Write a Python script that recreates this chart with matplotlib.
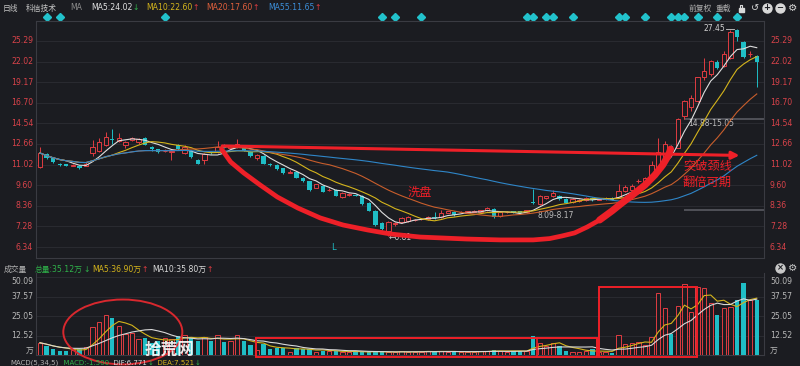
import matplotlib
matplotlib.use('Agg')
import matplotlib.pyplot as plt
from matplotlib.patches import Ellipse, Rectangle
from matplotlib.transforms import blended_transform_factory as blend
import numpy as np
import pandas as pd

plt.rcParams['font.family'] = ['DejaVu Sans', 'Noto Sans CJK SC']

## data (daily K line, prices in yuan, volume in 万)
opens = [10.85, 11.84, 11.5, 11.1, 11.05, 10.95, 10.95, 10.95, 11.9, 12.1,
         12.6, 13.1, 12.9, 12.6, 13.0, 12.8, 13.2, 12.4, 12.2, 12.05,
         12.0, 12.6, 11.9, 12.1, 11.4, 11.4, 12.0, 12.0, 12.6, 12.35,
         12.4, 12.4, 12.0, 11.55, 11.7, 11.1, 11.0, 10.75, 10.45, 10.5,
         10.1, 9.85, 9.45, 9.55, 9.3, 9.3, 8.85, 9.0, 9.0, 8.95,
         8.5, 8.1, 7.45, 7.05, 7.38, 7.5, 7.55, 7.6, 7.65, 7.65,
         7.78, 7.75, 7.98, 8.0, 8.0, 7.98, 8.02, 8.0, 8.13, 8.2,
         7.8, 8.0, 8.05, 8.05, 8.0, 8.55, 8.45, 8.8, 8.9, 8.95,
         8.76, 8.55, 8.65, 8.68, 8.8, 8.72, 8.78, 8.8, 8.87, 9.24,
         9.3, 9.85, 9.87, 10.07, 10.85, 11.45, 12.5, 12.35, 15.3, 16.2,
         16.9, 19.9, 20.2, 21.9, 21.4, 22.6, 27.2, 25.1, 23.1, 22.9]
highs = [12.4, 11.9, 11.55, 11.15, 11.1, 11.05, 11.0, 11.2, 13.0, 13.2,
         13.7, 14.0, 13.6, 12.9, 13.3, 13.2, 13.3, 12.45, 12.25, 12.2,
         12.2, 12.7, 12.6, 12.15, 11.45, 11.9, 12.05, 12.9, 12.65, 12.6,
         13.1, 12.45, 12.05, 11.8, 11.75, 11.15, 11.05, 10.8, 10.6, 10.55,
         10.15, 9.9, 9.7, 9.6, 9.4, 9.35, 9.2, 9.1, 9.05, 9.0,
         8.55, 8.15, 7.5, 7.55, 7.5, 7.75, 7.8, 7.65, 7.7, 7.8,
         8.0, 8.13, 8.1, 8.05, 8.05, 8.1, 8.15, 8.15, 8.3, 8.25,
         8.05, 8.05, 8.1, 8.1, 8.15, 9.35, 9.0, 8.95, 9.3, 9.0,
         8.8, 8.8, 8.75, 8.85, 8.85, 8.8, 8.85, 8.85, 9.7, 9.6,
         9.65, 10.0, 10.15, 11.3, 13.2, 12.9, 12.6, 15.1, 17.0, 17.6,
         19.9, 22.6, 22.3, 22.3, 23.6, 27.2, 27.45, 25.3, 23.6, 23.0]
lows = [10.75, 11.45, 11.15, 10.95, 10.9, 10.9, 10.7, 10.9, 11.7, 12.0,
        12.5, 12.7, 12.8, 12.3, 12.9, 12.7, 12.55, 12.1, 11.95, 12.0,
        11.4, 12.15, 11.85, 11.55, 11.05, 11.1, 11.85, 11.95, 12.3, 12.3,
        12.35, 12.05, 11.6, 11.4, 11.05, 10.95, 10.65, 10.35, 10.4, 10.05,
        9.8, 9.25, 9.4, 9.15, 9.25, 8.9, 8.8, 8.95, 8.9, 8.4,
        8.05, 7.3, 7.1, 6.81, 7.3, 7.45, 7.5, 7.55, 7.6, 7.6,
        7.65, 7.7, 7.95, 7.8, 7.95, 7.95, 8.0, 7.95, 8.1, 7.7,
        7.75, 7.95, 7.95, 7.9, 7.95, 8.45, 8.4, 8.75, 8.85, 8.7,
        8.5, 8.5, 8.6, 8.65, 8.65, 8.68, 8.72, 8.7, 8.8, 9.2,
        9.25, 9.75, 9.85, 10.0, 10.8, 11.4, 12.3, 12.3, 15.0, 15.8,
        16.8, 19.5, 20.0, 21.0, 21.2, 22.4, 25.2, 22.5, 22.7, 18.6]
closes = [11.92, 11.5, 11.2, 11.0, 10.95, 11.0, 10.75, 11.1, 12.4, 12.8,
          13.3, 13.0, 13.2, 12.8, 13.2, 13.1, 12.6, 12.2, 12.0, 12.1,
          12.1, 12.2, 12.4, 11.6, 11.1, 11.8, 11.9, 12.4, 12.35, 12.5,
          12.7, 12.1, 11.65, 11.75, 11.1, 11.0, 10.7, 10.4, 10.5, 10.1,
          9.85, 9.3, 9.65, 9.2, 9.32, 8.95, 9.1, 9.05, 8.95, 8.45,
          8.1, 7.35, 7.15, 7.5, 7.45, 7.7, 7.75, 7.6, 7.65, 7.75,
          7.7, 7.98, 8.07, 7.85, 8.0, 8.07, 8.1, 8.13, 8.24, 7.75,
          8.0, 8.02, 7.97, 7.95, 8.13, 8.5, 8.95, 8.9, 9.1, 8.76,
          8.53, 8.75, 8.72, 8.8, 8.7, 8.75, 8.8, 8.72, 9.24, 9.5,
          9.55, 9.9, 10.07, 11.0, 12.0, 12.66, 12.35, 15.0, 16.9, 17.2,
          19.8, 20.6, 22.1, 21.1, 23.2, 26.9, 26.0, 22.7, 23.2, 22.0]
volumes = [7.9, 6.0, 3.7, 2.5, 2.5, 3.2, 4.0, 5.3, 18.2, 21.4,
           25.7, 24.0, 18.6, 13.3, 13.9, 10.3, 10.7, 7.5, 9.0, 10.7,
           10.3, 12.2, 12.8, 10.7, 9.0, 11.8, 9.0, 12.8, 8.5, 9.0,
           12.8, 9.0, 6.4, 3.2, 6.9, 3.7, 4.7, 4.7, 2.1, 4.3,
           3.7, 3.7, 2.1, 2.6, 2.6, 2.6, 1.7, 2.1, 2.1, 2.1,
           1.7, 2.8, 1.7, 1.7, 1.7, 2.6, 2.1, 2.1, 2.1, 2.6,
           2.1, 2.6, 2.1, 2.1, 1.7, 2.1, 2.1, 2.6, 2.6, 3.2,
           2.6, 2.1, 2.6, 2.6, 2.6, 12.2, 7.5, 6.0, 7.5, 6.0,
           2.6, 2.1, 2.1, 2.6, 3.7, 2.1, 1.7, 1.5, 12.8, 6.9,
           7.5, 8.1, 6.5, 11.8, 39.6, 30.4, 13.3, 31.5, 45.4, 27.4,
           43.9, 42.8, 33.2, 25.7, 30.4, 31.0, 35.3, 46.0, 35.3, 35.12]
signal_days = [1, 3, 19, 52, 54, 58, 74, 75, 77, 78, 81, 88, 89, 92, 96, 97, 98, 100, 103, 106]
price_ticks = [6.34, 7.28, 8.36, 9.60, 11.02, 12.66, 14.54, 16.70, 19.17, 22.02, 25.29]
volume_ticks = [12.52, 25.05, 37.57, 50.09]
ma_lines = [(5, '#dedede'), (10, '#d4b41c'), (20, '#c85e2c'), (55, '#2f86c8')]

## colours
BG = '#1b1c21'
RED = '#e03c42'
CYAN = '#1fbec6'
MARK = '#ee2028'
GRID = '#2c2d33'
SPINE = '#3a3b42'
GRAY = '#c4c4c4'
W, H = 800, 366

fig = plt.figure(figsize=(8, 3.66), dpi=100, facecolor=BG)
ax = fig.add_axes([36 / W, 1 - 258 / H, 728 / W, 237 / H], facecolor=BG)
vax = fig.add_axes([36 / W, 1 - 355 / H, 728 / W, 82 / H], facecolor=BG)

idx = np.arange(len(closes))
o = np.array(opens)
c = np.array(closes)
hi = np.array(highs)
lo = np.array(lows)
up = c >= o
cols = np.where(up, RED, CYAN)

## price panel
ax.set_yscale('log')
ax.vlines(idx, lo, hi, colors=cols, lw=0.7, zorder=2)
b_lo = np.minimum(o, c)
b_hi = np.maximum(o, c)
ax.bar(idx[up], b_hi[up] - b_lo[up], bottom=b_lo[up], width=0.66,
       facecolor=BG, edgecolor=RED, lw=0.7, zorder=3)
ax.bar(idx[~up], b_hi[~up] - b_lo[~up], bottom=b_lo[~up], width=0.66,
       color=CYAN, lw=0, zorder=3)
cs = pd.Series(closes)
for n, col in ma_lines:
    ax.plot(idx, cs.rolling(n, min_periods=1).mean(), color=col, lw=0.8, zorder=4)

ax.set_xlim(-0.6, 110.1)
ax.set_ylim(5.89, 28.9)
ax.set_yticks(price_ticks)
ax.yaxis.set_minor_locator(matplotlib.ticker.NullLocator())
ax.set_yticklabels([])
ax.set_xticks([])
ax.tick_params(length=0)
ax.grid(axis='y', color=GRID, lw=0.6)
ax.set_axisbelow(True)
for s in ax.spines.values():
    s.set_color(SPINE)
    s.set_linewidth(0.8)
ty = blend(ax.transAxes, ax.transData)
for t in price_ticks:
    ax.text(-3 / 728, t, f'{t:.2f}', transform=ty, ha='right', va='center', fontsize=5.6, color='#d9434a')
    ax.text(1 + 6 / 728, t, f'{t:.2f}', transform=ty, ha='left', va='center', fontsize=5.6, color='#d9434a')

# signal diamonds above the chart
ax.plot(signal_days, [1.017] * len(signal_days), 'D', ms=3.6, color='#22c2cc',
        transform=blend(ax.transData, ax.transAxes), clip_on=False)

# price range markers and labels
for start, p0, p1, lab, lx, ly in [(98, 14.88, 15.05, '14.88-15.05', 98.5, 14.48),
                                   (98, 8.09, 8.17, '8.09-8.17', 75.6, 7.86)]:
    ax.fill_between([start, 110.1], p0, p1, color='#4e4f56', lw=0, zorder=1)
    ax.text(lx, ly, lab, fontsize=5.5, color='#bdbdbd', va='center', ha='left')
ax.text(104.2, 27.45, '27.45', fontsize=5.5, color='#cfcfcf', ha='right', va='center')
ax.plot([104.35, 105.6], [27.45, 27.45], color='#cfcfcf', lw=0.6)
ax.text(53.0, 6.78, '←6.81', fontsize=5.5, color='#cfcfcf', ha='left', va='center')
ax.text(44.6, 6.3, 'L', fontsize=6, color=CYAN, ha='center', va='center')

# hand drawn markup
bowl = [(27.6, 12.24), (29.0, 11.22), (31.0, 10.42), (33.5, 9.61), (36.1, 8.87), (39.2, 8.24),
        (42.6, 7.71), (46.1, 7.35), (49.8, 7.11), (53.3, 6.92), (57.8, 6.78), (64.9, 6.69),
        (70.0, 6.65), (75.0, 6.65), (77.5, 6.71), (79.4, 6.83), (81.3, 6.97), (83.2, 7.25),
        (85.1, 7.60), (87.0, 8.08), (88.5, 8.52), (90.3, 9.05), (92.0, 9.61), (93.5, 10.28),
        (94.7, 10.99), (95.6, 11.76), (95.9, 12.24)]
bx, by = zip(*bowl)
ax.plot(bx, by, color=MARK, lw=3.4, solid_capstyle='round', solid_joinstyle='round', zorder=6)
ax.plot(bx[-9:], by[-9:], color=MARK, lw=5.0, solid_capstyle='round', solid_joinstyle='round', zorder=6)
ax.annotate('', xy=(106.8, 11.72), xytext=(27.3, 12.5),
            arrowprops=dict(arrowstyle='-|>', color=MARK, lw=2.2, mutation_scale=11), zorder=6)
ax.text(57.7, 9.17, '洗盘', fontsize=8.8, color=MARK, ha='center', va='center', zorder=7)
ax.text(101.5, 10.85, '突破颈线', fontsize=8.8, color=MARK, ha='center', va='center', zorder=7)
ax.text(101.5, 9.81, '翻倍可期', fontsize=8.8, color=MARK, ha='center', va='center', zorder=7)

## volume panel
vol = np.array(volumes)
vax.bar(idx[up], vol[up], width=0.66, facecolor=BG, edgecolor=RED, lw=0.7, zorder=3)
vax.bar(idx[~up], vol[~up], width=0.66, color=CYAN, lw=0, zorder=3)
vs = pd.Series(volumes)
vax.plot(idx, vs.rolling(5, min_periods=1).mean(), color='#d4b41c', lw=0.8, zorder=4)
vax.plot(idx, vs.rolling(10, min_periods=1).mean(), color='#d8d8d8', lw=0.8, zorder=4)
vax.set_xlim(-0.6, 110.1)
vax.set_ylim(0, 52.7)
vax.set_yticks(volume_ticks)
vax.set_yticklabels([])
vax.set_xticks([])
vax.tick_params(length=0)
vax.grid(axis='y', color=GRID, lw=0.6)
vax.set_axisbelow(True)
for s in vax.spines.values():
    s.set_color(SPINE)
    s.set_linewidth(0.8)
vax.spines['top'].set_visible(False)
tv = blend(vax.transAxes, vax.transData)
for t in volume_ticks:
    va = 'top' if t == volume_ticks[-1] else 'center'
    vax.text(-3 / 728, t, f'{t:.2f}', transform=tv, ha='right', va=va, fontsize=5.6, color='#b8b8b8')
    vax.text(1 + 6 / 728, t, f'{t:.2f}', transform=tv, ha='left', va=va, fontsize=5.6, color='#b8b8b8')
for xx, ha in [(-3 / 728, 'right'), (1 + 6 / 728, 'left')]:
    vax.text(xx, 0, '万', transform=tv, ha=ha, va='bottom', fontsize=5.6, color='#b8b8b8')

vax.add_patch(Ellipse((12.6, 14.8), 18.1, 41.7, fill=False, ec='#d8282e', lw=1.4, clip_on=False, zorder=6))
vax.add_patch(Rectangle((32.8, -1.3), 84.7 - 32.8, 12.2, fill=False, ec=MARK, lw=1.4, clip_on=False, zorder=6))
vax.plot([75.6, 75.6], [-1.3, 10.9], color=MARK, lw=1.2, clip_on=False, zorder=6)
vax.add_patch(Rectangle((85.0, -1.3), 99.85 - 85.0, 45.0, fill=False, ec=MARK, lw=1.4, clip_on=False, zorder=6))
vax.text(12.7 + 7.0, 3.6, '拾荒网', fontsize=12, color='white', alpha=0.9, fontweight='bold',
         ha='center', va='center', zorder=7)

## header texts, in screen pixels
ov = fig.add_axes([0, 0, 1, 1])
ov.set_xlim(0, W)
ov.set_ylim(H, 0)
ov.axis('off')
ov.patch.set_alpha(0)
renderer = fig.canvas.get_renderer()


def header(x, y, parts, size=5.6, gap=0.5):
    for s, col in parts:
        t = ov.text(x, y, s, color=col, fontsize=size, ha='left', va='center')
        x += t.get_window_extent(renderer).width + gap


GREEN = '#2fb34a'
header(3, 8, [('日线', GRAY)])
header(26, 8, [('科信技术', GRAY)])
header(70, 8, [('MA', '#8c8c8c')])
header(91, 8, [('MA5:24.02', '#e2e2e2'), ('↓', GREEN)])
header(146, 8, [('MA10:22.60', '#d4b41c'), ('↑', RED)])
header(206, 8, [('MA20:17.60', '#e0603c'), ('↑', RED)])
header(268, 8, [('MA55:11.65', '#3c8ed8'), ('↑', RED)])
header(689, 8, [('前复权', '#b0b0b0')])
header(716, 8, [('重载', '#b0b0b0')])

header(4, 269, [('成交量', '#b0b0b0')])
header(35, 269, [('总量:35.12万', GREEN), ('↓', GREEN)])
header(92, 269, [('MA5:36.90万', '#d4b41c'), ('↑', RED)])
header(152, 269, [('MA10:35.80万', '#d8d8d8'), ('↑', RED)])

# macd line, cut by the bottom edge as in the screenshot
header(10, 363, [('MACD(5,34,5)', '#b0b0b0'), ('  MACD:-1.500', GREEN),
                 ('  DIF:6.771', '#d8d8d8'), ('↓', GREEN),
                 ('  DEA:7.521', '#d4b41c'), ('↓', GREEN)], size=5.0, gap=0.3)

# toolbar icons
ov.add_patch(Rectangle((738.5, 7.5), 5, 4, color='#d8d8d8'))
ov.plot([739.8, 739.8, 742.2, 742.2], [7.5, 5, 5, 7.5], color='#d8d8d8', lw=0.8)
ov.text(755, 8.5, '↺', fontsize=7, color='#d8d8d8', ha='center', va='center')
for xx, sym in [(767, '+'), (780, '−')]:
    ov.plot(xx, 8, 'o', ms=6.5, color='#d8d8d8')
    ov.text(xx, 8, sym, fontsize=6, color=BG, ha='center', va='center', fontweight='bold')
ov.text(793, 8, '⚙', fontsize=7.5, color='#d8d8d8', ha='center', va='center')
ov.plot(780, 268, 'o', ms=6.5, color='#c8c8c8')
ov.text(780, 268, '×', fontsize=6, color=BG, ha='center', va='center', fontweight='bold')
ov.text(793, 268, '⚙', fontsize=7.5, color='#c8c8c8', ha='center', va='center')

fig.savefig('out.png', dpi=100, facecolor=BG)
